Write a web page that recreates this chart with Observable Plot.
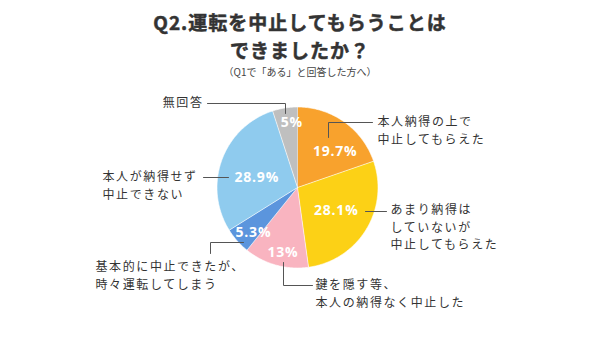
<!DOCTYPE html>
<html><head><meta charset="utf-8">
<script src="https://cdn.jsdelivr.net/npm/d3@7"></script>
<script src="https://cdn.jsdelivr.net/npm/@observablehq/plot@0.6"></script>
<style>
body{margin:0;background:#fff;font-family:"Noto Sans CJK JP","Noto Sans",sans-serif;}
#wrap{width:600px;height:354px;position:relative;overflow:hidden;}
#title{height:84px;text-align:center;color:#333;box-sizing:border-box;padding-top:8px;}
#title .t{font-size:19px;font-weight:700;line-height:27.6px;letter-spacing:1px;-webkit-text-stroke:0.5px #333;}
#title .s{font-size:10px;line-height:14px;margin-top:2px;color:#444;}
#chart text{letter-spacing:0.8px;}
#chart .lbl text{letter-spacing:1.6px;}
</style></head>
<body><div id="wrap">
<div id="title"><div class="t">Q2.運転を中止してもらうことは</div><div class="t">できましたか？</div><div class="s">（Q1で「ある」と回答した方へ）</div></div>
<div id="chart"></div></div>
<script>
// ---- data ----
const categories = [
  "本人納得の上で\n中止してもらえた",
  "あまり納得は\nしていないが\n中止してもらえた",
  "鍵を隠す等、\n本人の納得なく中止した",
  "基本的に中止できたが、\n時々運転してしまう",
  "本人が納得せず\n中止できない",
  "無回答"
];
const values = [19.7, 28.1, 13, 5.3, 28.9, 5];
const valueLabels = ["19.7%", "28.1%", "13%", "5.3%", "28.9%", "5%"];
const colors = ["#f8a22d", "#fcd116", "#f9b4c0", "#5b95dd", "#8fcbee", "#bfbfbf"];

// ---- layout (page pixel coordinates) ----
const cx = 297, cy = 187, R = 80.5;
const pctPolar = [[52, 11], [45, -1], [67, -3], [63, -4], [42, -6], [65, 4]]; // radius, angle offset (deg)
const textPos = [
  {x: 377, y: 122, anchor: "start"},
  {x: 390, y: 210, anchor: "start"},
  {x: 315, y: 285, anchor: "start"},
  {x: 95, y: 267, anchor: "start"},
  {x: 102, y: 177, anchor: "start"},
  {x: 203, y: 103, anchor: "end"}
];
const leaders = [
  [[328,137],[328,122],[372,122]],
  [[365,211],[386,211]],
  [[283,262],[283,285],[312,285]],
  [[243,242],[210,242],[210,253]],
  [[228,177],[203,177]],
  [[285,113],[285,103],[207,103]]
];
const lineStep = 17.5;

// ---- computation ----
const arcs = d3.pie().sort(null).value(d => d)(values);
const poly = [];
arcs.forEach((a, i) => {
  poly.push({cat: categories[i], x: cx, y: cy});
  const n = Math.max(2, Math.ceil((a.endAngle - a.startAngle) / (Math.PI / 180)));
  for (let k = 0; k <= n; k++) {
    const t = a.startAngle + (a.endAngle - a.startAngle) * k / n;
    poly.push({cat: categories[i], x: cx + R * Math.sin(t), y: cy - R * Math.cos(t)});
  }
});
const pct = arcs.map((a, i) => {
  const m = (a.startAngle + a.endAngle) / 2 + pctPolar[i][1] * Math.PI / 180;
  return {label: valueLabels[i], x: cx + pctPolar[i][0] * Math.sin(m), y: cy - pctPolar[i][0] * Math.cos(m)};
});
const lead = leaders.flatMap((pts, i) => pts.map(p => ({id: i, x: p[0], y: p[1]})));
const txt = categories.flatMap((c, i) => c.split("\n").map((line, j) => ({
  text: line, x: textPos[i].x, y: textPos[i].y + j * lineStep, anchor: textPos[i].anchor
})));

const chart = Plot.plot({
  width: 600, height: 270,
  margin: 0,
  x: {domain: [0, 600], range: [0, 600], axis: null},
  y: {domain: [84, 354], range: [0, 270], axis: null},
  color: {domain: categories, range: colors},
  style: {fontFamily: '"Noto Sans CJK JP","Noto Sans",sans-serif', background: "#fff"},
  marks: [
    Plot.line(poly, {x: "x", y: "y", z: "cat", fill: "cat", stroke: "#fff", strokeWidth: 0.6, curve: "linear"}),
    Plot.line(lead, {x: "x", y: "y", z: "id", stroke: "#555", strokeWidth: 1}),
    Plot.text(pct, {x: "x", y: "y", text: "label", fill: "#fff", fontSize: 14, fontWeight: 700, fontFamily: '"Open Sans","Noto Sans",sans-serif', textAnchor: "middle"}),
    Plot.text(txt.filter(d => d.anchor === "start"), {x: "x", y: "y", text: "text", fill: "#333", fontSize: 12, textAnchor: "start", className: "lbl"}),
    Plot.text(txt.filter(d => d.anchor === "end"), {x: "x", y: "y", text: "text", fill: "#333", fontSize: 12, textAnchor: "end", className: "lbl"})
  ]
});
document.getElementById("chart").appendChild(chart);
</script>
</body></html>
